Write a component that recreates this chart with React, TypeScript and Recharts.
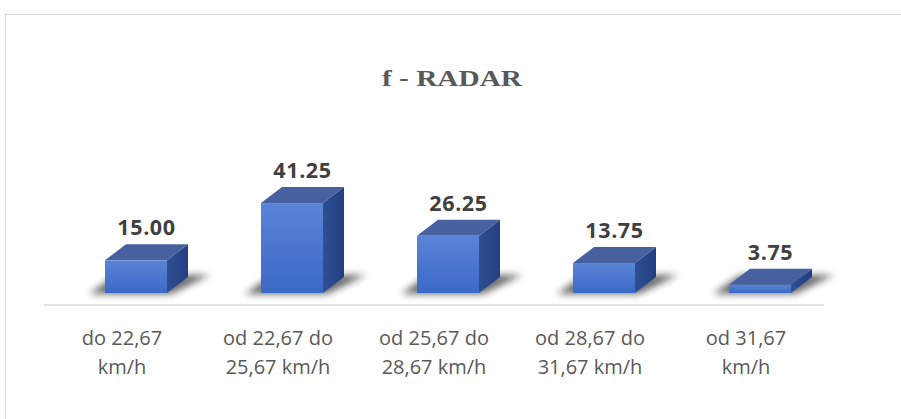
import React from 'react';
import { BarChart, Bar, XAxis, YAxis, LabelList } from 'recharts';

const categories = ['do 22,67 km/h', 'od 22,67 do 25,67 km/h', 'od 25,67 do 28,67 km/h', 'od 28,67 do 31,67 km/h', 'od 31,67 km/h'];
const tickLines = [
  ['do 22,67', 'km/h'],
  ['od 22,67 do', '25,67 km/h'],
  ['od 25,67 do', '28,67 km/h'],
  ['od 28,67 do', '31,67 km/h'],
  ['od 31,67', 'km/h'],
];
const values = [15.0, 41.25, 26.25, 13.75, 3.75];
const title = 'f - RADAR';

const data = categories.map((c, i) => ({ name: c, value: values[i], idx: i }));

const OX = 14;
const OY = -12;
const DX = 21;
const DY = 16;

const Box3D = (props: any) => {
  const { x, y, width, height } = props;
  const fx = x + OX;
  const fy = y + OY;
  const fb = y + height + OY;
  const shadow = `${fx - 16},${fb + 1} ${fx + width + 4},${fb + 1} ${fx + width + DX + 22},${fb - DY - 2} ${fx + DX - 10},${fb - DY - 2}`;
  const top = `${fx},${fy} ${fx + DX},${fy - DY} ${fx + width + DX},${fy - DY} ${fx + width},${fy}`;
  const side = `${fx + width},${fy} ${fx + width + DX},${fy - DY} ${fx + width + DX},${fb - DY} ${fx + width},${fb}`;
  return (
    <g>
      <polygon points={shadow} fill="#1a1a1a" opacity={0.65} filter="url(#shadowBlur)" />
      <polygon points={side} fill="url(#sideGrad)" />
      <polygon points={top} fill="#47609f" />
      <rect x={fx} y={fy} width={width} height={Math.max(0, fb - fy)} fill="url(#frontGrad)" />
    </g>
  );
};

const ValueLabel = (props: any) => {
  const { x, y, width, value } = props;
  const cx = x + OX + (width + DX) / 2;
  const by = y + OY - DY - 9;
  return (
    <text x={cx} y={by} textAnchor="middle" fontFamily="'Open Sans', sans-serif" fontWeight={700} fontSize={21.5} letterSpacing={0.6} fill="#404040">
      {Number(value).toFixed(2)}
    </text>
  );
};

const CatTick = (props: any) => {
  const { x, y, index } = props;
  const lines = tickLines[index] || [];
  return (
    <g>
      {lines.map((l, i) => (
        <text key={i} x={x} y={y + 40 + i * 29} textAnchor="middle" fontFamily="'Open Sans', sans-serif" fontSize={20} fill="#595959">
          {l}
        </text>
      ))}
    </g>
  );
};

export default function App() {
  return (
    <div style={{ position: 'absolute', left: 0, top: 0, width: 901, height: 419, background: '#fff', overflow: 'hidden' }}>
      <div style={{ position: 'absolute', left: 5, top: 14, width: 1000, height: 500, borderTop: '1px solid #d9d9d9', borderLeft: '1px solid #d9d9d9' }} />
      <svg width={901} height={419} style={{ position: 'absolute', left: 0, top: 0 }}>
        <text x={452} y={86} textAnchor="middle" textLength={140} lengthAdjust="spacingAndGlyphs" fontFamily="'Liberation Serif', 'Times New Roman', serif" fontWeight={700} fontSize={24} fill="#595959">
          {title}
        </text>
      </svg>
      <div style={{ position: 'absolute', left: 0, top: 0 }}>
        <BarChart width={901} height={419} data={data} margin={{ top: 196, right: 77, left: 44, bottom: 54 }}>
          <defs>
            <linearGradient id="frontGrad" x1="0" y1="0" x2="0" y2="1">
              <stop offset="0%" stopColor="#5a84d6" />
              <stop offset="100%" stopColor="#3a69c6" />
            </linearGradient>
            <linearGradient id="sideGrad" x1="0" y1="0" x2="1" y2="0">
              <stop offset="0%" stopColor="#2f4f94" />
              <stop offset="100%" stopColor="#233f80" />
            </linearGradient>
            <filter id="shadowBlur" x="-50%" y="-50%" width="200%" height="200%">
              <feGaussianBlur stdDeviation="3.5" />
            </filter>
          </defs>
          <YAxis hide domain={[0, 50]} />
          <XAxis
            dataKey="name"
            height={60}
            axisLine={{ stroke: '#d9d9d9', strokeWidth: 1.5 }}
            tickLine={false}
            tickSize={0}
            tickMargin={0}
            interval={0}
            tick={<CatTick />}
          />
          <Bar dataKey="value" barSize={62} shape={<Box3D />} isAnimationActive={false}>
            <LabelList dataKey="value" content={<ValueLabel />} />
          </Bar>
        </BarChart>
      </div>
    </div>
  );
}
